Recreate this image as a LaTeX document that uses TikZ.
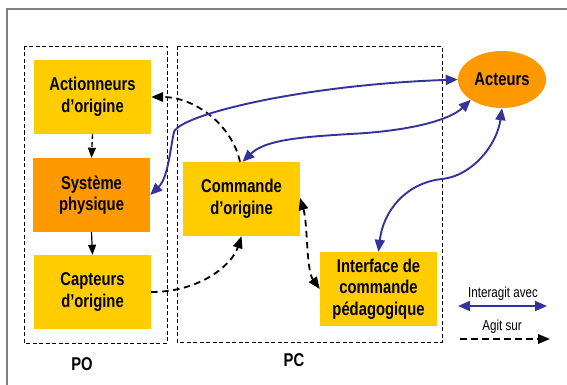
\documentclass[tikz,border=0pt]{standalone}
\usepackage{fontspec}
\setmainfont{Liberation Sans}[FakeStretch=0.8]
\usetikzlibrary{arrows.meta,shapes.geometric}
\definecolor{myblue}{HTML}{333399}
\definecolor{myyellow}{HTML}{FFCC00}
\definecolor{myorange}{HTML}{FF9900}
\begin{document}
\begin{tikzpicture}[x=1pt,y=-1pt,
  box/.style={fill=#1, minimum width=117pt, minimum height=74pt, inner sep=0pt, align=center,
    font=\fontsize{18.5}{21.5}\selectfont\bfseries},
  zone/.style={draw=black, line width=0.8pt, dash pattern=on 4pt off 2.5pt},
  inter/.style={draw=myblue, line width=1.9pt, {Triangle[length=12pt,width=10pt]}-{Triangle[length=12pt,width=10pt]}},
  agit/.style={draw=black, line width=1.8pt, dash pattern=on 6.5pt off 4.5pt, -{Triangle[length=12pt,width=9.5pt]}},
  agitboth/.style={draw=black, line width=1.8pt, dash pattern=on 6.5pt off 4.5pt, {Triangle[length=12pt,width=9.5pt]}-{Triangle[length=12pt,width=9.5pt]}},
  solidarrow/.style={draw=black, line width=1.2pt, -{Triangle[length=10pt,width=8pt]}},
  lbl/.style={font=\fontsize{18.5}{21.5}\selectfont\bfseries, inner sep=0pt},
  leg/.style={font=\fontsize{14.5}{16}\selectfont, inner sep=0pt}
]
\useasboundingbox (0,0) rectangle (567,385);
\fill[white] (0,0) rectangle (567,385);
% outer frame
\draw[gray, line width=1.2pt] (7,385) -- (7,9) -- (567,9);
% zones
\draw[zone] (24,46) rectangle (167,343);
\draw[zone] (177,46) rectangle (442,342);
% nodes
\node[box=myyellow] (actn) at (92.5,97) {Actionneurs\\d’origine};
\node[box=myorange] (sys) at (91.5,195) {Système\\physique};
\node[box=myyellow] (capt) at (92.5,292) {Capteurs\\d’origine};
\node[box=myyellow] (com) at (241.5,199) {Commande\\d’origine};
\node[box=myyellow] (intf) at (378.5,289) {Interface de\\commande\\pédagogique};
\node[ellipse, fill=myorange, minimum width=88pt, minimum height=57pt, inner sep=0pt,
  font=\fontsize{18.5}{21.5}\selectfont\bfseries] (acteurs) at (502,79.5) {Acteurs};
% labels
\node[lbl] (po) at (82,364) {PO};
\node[lbl] (pc) at (294,360) {PC};
% PO internal arrows
\draw[agit, line width=1.3pt, dash pattern=on 5pt off 3pt, -{Triangle[length=10pt,width=8pt]}] (actn.south) -- (sys.north);
\draw[solidarrow] (sys.south) -- (capt.north);
% dashed connections
\draw[agit] ([xshift=-1.5pt]com.north) .. controls (232,125) and (195,97) .. (actn.east);
\draw[agit] (capt.east) .. controls (200,292) and (232,265) .. (com.south);
\draw[agitboth] ([yshift=1pt]com.east) .. controls (308,225) and (306,270) .. (intf.west);
% blue interactions
\draw[inter] (sys.east) .. controls (168,178) and (170,150) .. (174,132) .. controls (180,115) and (300,85) .. (acteurs.west);
\draw[inter] ([xshift=1pt]com.north) .. controls (265,140) and (300,137) .. (350,134) .. controls (410,131) and (450,120) .. (acteurs.south west);
\draw[inter] (intf.north) .. controls (383,212) and (405,183) .. (442,179) .. controls (472,176) and (497,145) .. (acteurs.south);
% legend
\coordinate (la) at (458,306);
\coordinate (lb) at (547,306);
\coordinate (lc) at (460,339);
\coordinate (ld) at (550,339);
\draw[inter] (la) -- (lb);
\draw[agit] (lc) -- (ld);
\node[leg] (legi) at (503,294) {Interagit avec};
\node[leg] (lega) at (502,327) {Agit sur};
\end{tikzpicture}
\end{document}
